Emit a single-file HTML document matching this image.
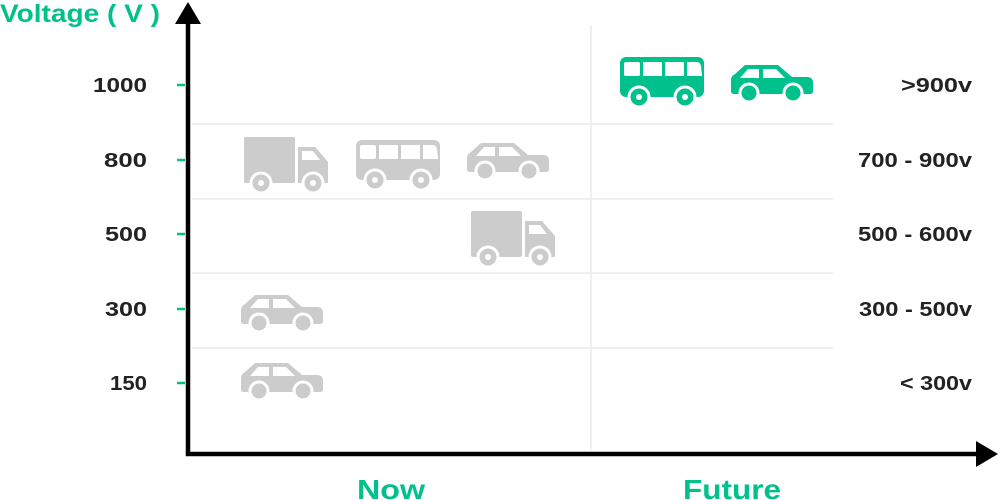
<!DOCTYPE html>
<html><head><style>
html,body{margin:0;padding:0;background:#fff;}
svg{display:block;}
text{font-family:"Liberation Sans",sans-serif;font-weight:bold;}
</style></head><body>
<svg width="1000" height="500" viewBox="0 0 1000 500" xmlns="http://www.w3.org/2000/svg">
<defs>
<g id="truck">
<rect x="0" y="0" width="51" height="46" rx="2"/>
<path d="M54,10 h17 l13,15 v21 h-30 z"/>
<path d="M58,14 h11 l7,9 h-18 z" fill="#fff"/>
<circle cx="17" cy="46" r="10" stroke="#fff" stroke-width="3"/>
<circle cx="17" cy="46" r="3" fill="#fff"/>
<circle cx="69" cy="46" r="10" stroke="#fff" stroke-width="3"/>
<circle cx="69" cy="46" r="3" fill="#fff"/>
</g>
<g id="bus">
<rect x="0" y="0" width="84" height="40" rx="6"/>
<rect x="4" y="5" width="16" height="14" rx="2" fill="#fff"/>
<rect x="23" y="5" width="19" height="14" fill="#fff"/>
<rect x="45" y="5" width="19" height="14" fill="#fff"/>
<path d="M67,5 h10 q3,0 4,4 l1,10 h-15 z" fill="#fff"/>
<circle cx="19" cy="40" r="10" stroke="#fff" stroke-width="3"/>
<circle cx="19" cy="40" r="3" fill="#fff"/>
<circle cx="65" cy="40" r="10" stroke="#fff" stroke-width="3"/>
<circle cx="65" cy="40" r="3" fill="#fff"/>
</g>
<g id="car">
<path d="M14,0 h33 l14,12 h15 q6,0 6,6 v8 q0,3 -3,3 h-76 q-3,0 -3,-3 v-11 q0,-4 4,-6 z"/>
<path d="M17,4 h11 v9 h-19 z" fill="#fff"/>
<path d="M32,4 h13 l9,9 h-22 z" fill="#fff"/>
<circle cx="18" cy="28" r="9" stroke="#fff" stroke-width="3"/>
<circle cx="62" cy="28" r="9" stroke="#fff" stroke-width="3"/>
</g>
</defs>
<g stroke="#ebebeb" stroke-width="1.5">
<line x1="192" y1="124" x2="833" y2="124"/>
<line x1="192" y1="199" x2="833" y2="199"/>
<line x1="192" y1="273" x2="833" y2="273"/>
<line x1="192" y1="348" x2="833" y2="348"/>
<line x1="591" y1="25" x2="591" y2="450"/>
</g>
<line x1="188" y1="20" x2="188" y2="456" stroke="#000" stroke-width="4.5"/>
<polygon points="188,2 175,24 201,24" fill="#000"/>
<line x1="186" y1="454" x2="978" y2="454" stroke="#000" stroke-width="4.5"/>
<polygon points="998,454 976,441 976,467" fill="#000"/>
<g stroke="#00c08b" stroke-width="2.5">
<line x1="177" y1="85" x2="185" y2="85"/>
<line x1="177" y1="160" x2="185" y2="160"/>
<line x1="177" y1="234" x2="185" y2="234"/>
<line x1="177" y1="309" x2="185" y2="309"/>
<line x1="177" y1="383" x2="185" y2="383"/>
</g>
<text x="0" y="22" font-size="25" fill="#00c08b" textLength="160" lengthAdjust="spacingAndGlyphs">Voltage ( V )</text>
<g font-size="20" fill="#222" text-anchor="end" lengthAdjust="spacingAndGlyphs">
<text x="147" y="92" textLength="54" lengthAdjust="spacingAndGlyphs">1000</text>
<text x="147" y="167" textLength="43" lengthAdjust="spacingAndGlyphs">800</text>
<text x="147" y="241" textLength="42" lengthAdjust="spacingAndGlyphs">500</text>
<text x="147" y="316" textLength="42" lengthAdjust="spacingAndGlyphs">300</text>
<text x="147" y="390" textLength="37" lengthAdjust="spacingAndGlyphs">150</text>
<text x="972" y="92" textLength="71" lengthAdjust="spacingAndGlyphs">&gt;900v</text>
<text x="972" y="167" textLength="114" lengthAdjust="spacingAndGlyphs">700 - 900v</text>
<text x="972" y="241" textLength="114" lengthAdjust="spacingAndGlyphs">500 - 600v</text>
<text x="972" y="316" textLength="113" lengthAdjust="spacingAndGlyphs">300 - 500v</text>
<text x="972" y="390" textLength="72" lengthAdjust="spacingAndGlyphs">&lt; 300v</text>
</g>
<g font-size="28" fill="#00c08b">
<text x="357" y="499" textLength="68" lengthAdjust="spacingAndGlyphs">Now</text>
<text x="683" y="499" textLength="98" lengthAdjust="spacingAndGlyphs">Future</text>
</g>
<g fill="#cccccc">
<use href="#truck" x="244" y="137"/>
<use href="#bus" x="356" y="140"/>
<use href="#car" x="467" y="143"/>
<use href="#truck" x="471" y="211"/>
<use href="#car" x="241" y="295"/>
<use href="#car" x="241" y="363"/>
</g>
<g fill="#00c08b">
<use href="#bus" x="620" y="57"/>
<use href="#car" x="731" y="65"/>
</g>
</svg>
</body></html>
